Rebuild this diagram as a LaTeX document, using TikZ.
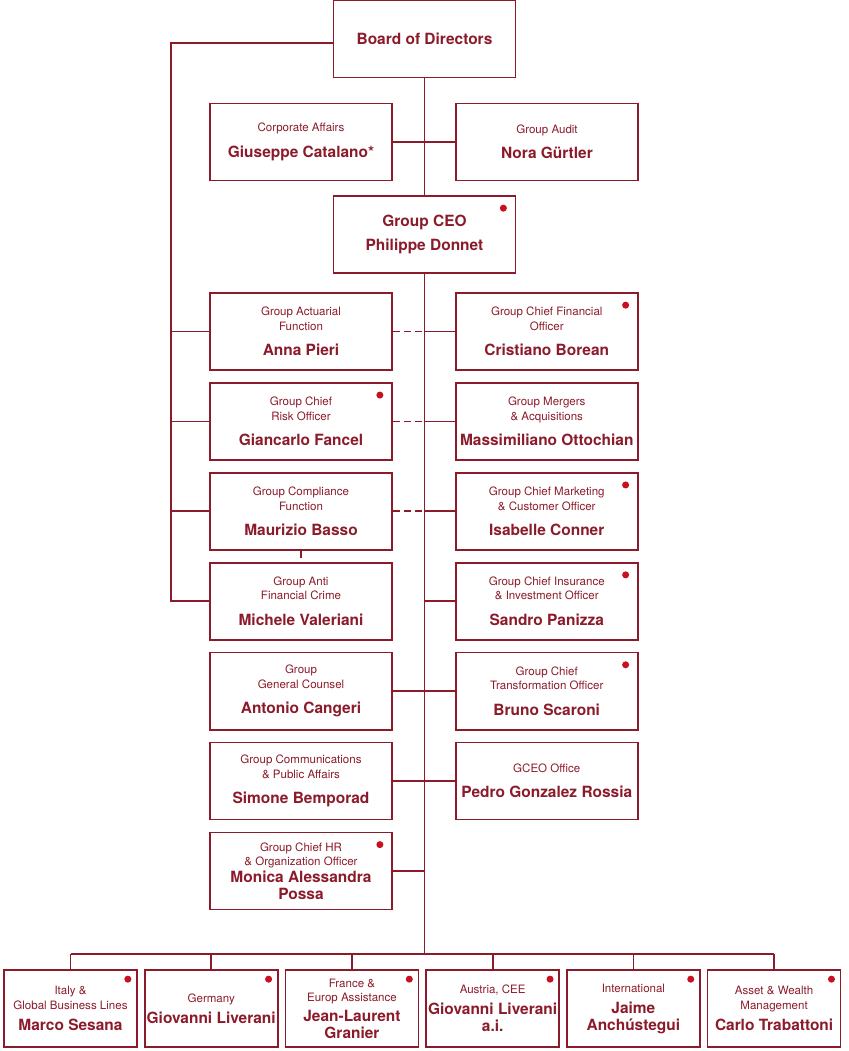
\documentclass[tikz,border=0pt]{standalone}
\usepackage{fontspec}
\setmainfont{TeX Gyre Heros}
\usepackage{xcolor}
\usepackage{tikz}
\usetikzlibrary{positioning,backgrounds}

\definecolor{genred}{RGB}{139,27,42}
\definecolor{dotred}{RGB}{200,16,32}
\newcommand{\titlefont}{\fontsize{8.2}{10.2}\selectfont}
\newcommand{\namefont}{\fontsize{11}{12}\selectfont\bfseries}
\newcommand{\jobtxt}[3][6pt]{{\titlefont #2\par}\vspace{#1}{\namefont #3\par}}
\hyphenpenalty=10000

\begin{document}
\begin{tikzpicture}[
    x=0.025cm, y=-0.025cm,
    box/.style={rectangle, draw=genred, line width=1.2pt, fill=white, text=genred, minimum width=4.55cm, minimum height=1.925cm, text width=4.5cm, align=flush center, inner xsep=0.5pt, inner ysep=0pt},
    unitbox/.style={box, minimum width=3.325cm, text width=3.25cm},
    link/.style={genred, line width=1.2pt},
    dashlink/.style={link, dash pattern=on 5pt off 3pt}
]
    \useasboundingbox (0,0) rectangle (848,1051);

    % Top
    \node[box] (board) at (424.5,39) {\namefont Board of Directors};
    \node[box] (corp) at (301,142) {\jobtxt{Corporate Affairs}{Giuseppe Catalano*}};
    \node[box] (audit) at (547,142) {\jobtxt{Group Audit}{Nora Gürtler}};
    \node[box] (ceo) at (424.5,234.5) {\namefont Group CEO\\[5pt]Philippe Donnet};

    % Left column
    \node[box] (act) at (301,331.5) {\jobtxt{Group Actuarial\\Function}{Anna Pieri}};
    \node[box, below=0.28cm of act] (cro) {\jobtxt{Group Chief\\Risk Officer}{Giancarlo Fancel}};
    \node[box, below=0.28cm of cro] (comp) {\jobtxt{Group Compliance\\Function}{Maurizio Basso}};
    \node[box, below=0.28cm of comp] (afc) {\jobtxt{Group Anti\\Financial Crime}{Michele Valeriani}};
    \node[box, below=0.28cm of afc] (gc) {\jobtxt{Group\\General Counsel}{Antonio Cangeri}};
    \node[box, below=0.28cm of gc] (comm) {\jobtxt{Group Communications\\\& Public Affairs}{Simone Bemporad}};
    \node[box, below=0.28cm of comm] (chr) {\jobtxt[0pt]{Group Chief HR\\\& Organization Officer}{Monica Alessandra\\Possa}};

    % Right column
    \node[box, right=1.55cm of act] (cfo) {\jobtxt{Group Chief Financial\\Officer}{Cristiano Borean}};
    \node[box, right=1.55cm of cro] (ma) {\jobtxt{Group Mergers\\\& Acquisitions}{Massimiliano Ottochian}};
    \node[box, right=1.55cm of comp] (cmo) {\jobtxt{Group Chief Marketing\\\& Customer Officer}{Isabelle Conner}};
    \node[box, right=1.55cm of afc] (cio) {\jobtxt{Group Chief Insurance\\\& Investment Officer}{Sandro Panizza}};
    \node[box, right=1.55cm of gc] (cto) {\jobtxt{Group Chief\\Transformation Officer}{Bruno Scaroni}};
    \node[box, right=1.55cm of comm] (office) {\jobtxt{GCEO Office}{Pedro Gonzalez Rossia}};

    % Business units
    \node[unitbox] (italy) at (70.5,1008.5) {\jobtxt[3pt]{Italy \&\\Global Business Lines}{Marco Sesana}};
    \node[unitbox, right=0.15cm of italy] (germany) {\jobtxt[3pt]{Germany}{Giovanni Liverani}};
    \node[unitbox, right=0.15cm of germany] (france) {\jobtxt[2pt]{France \&\\Europ Assistance}{Jean-Laurent\\Granier}};
    \node[unitbox, right=0.15cm of france] (austria) {\jobtxt[3pt]{Austria, CEE}{Giovanni Liverani\\a.i.}};
    \node[unitbox, right=0.15cm of austria] (intl) {\jobtxt[3pt]{International}{Jaime\\Anchústegui}};
    \node[unitbox, right=0.15cm of intl] (awm) {\jobtxt[3pt]{Asset \& Wealth\\Management}{Carlo Trabattoni}};

    % Markers
    \foreach \n in {ceo,cro,cfo,cmo,cio,cto,chr}
        \fill[dotred] ([shift={(-13,13)}]\n.north east) circle (2.5pt);
    \foreach \n in {italy,germany,france,austria,intl,awm}
        \fill[dotred] ([shift={(-10,10)}]\n.north east) circle (2.5pt);

    % Connectors
    \begin{scope}[on background layer]
        \coordinate (bus) at (424.5,954);
        \coordinate (lft) at (171,43);
        \draw[link] (board.south) -- (bus);
        \draw[link] (corp) -- (audit);
        \draw[link] (board.west |- lft) -- (lft) -- (lft |- afc.west) -- (afc.west);
        \foreach \n in {act,cro,comp}
            \draw[link] (lft |- \n.west) -- (\n.west);
        \foreach \n/\m in {act/cfo, cro/ma, comp/cmo} {
            \draw[dashlink] (\n.east) -- (\n.east -| bus);
            \draw[link] (\m.west) -- (\m.west -| bus);
        }
        \draw[dashlink] (comp.south) -- (afc.north);
        \draw[link] (cio.west) -- (cio.west -| bus);
        \draw[link] (gc) -- (cto);
        \draw[link] (comm) -- (office);
        \draw[link] (chr.east) -- (chr.east -| bus);
        \draw[link] (italy.north |- bus) -- (awm.north |- bus);
        \foreach \n in {italy,germany,france,austria,intl,awm}
            \draw[link] (\n.north) -- (\n.north |- bus);
    \end{scope}

\end{tikzpicture}
\end{document}
